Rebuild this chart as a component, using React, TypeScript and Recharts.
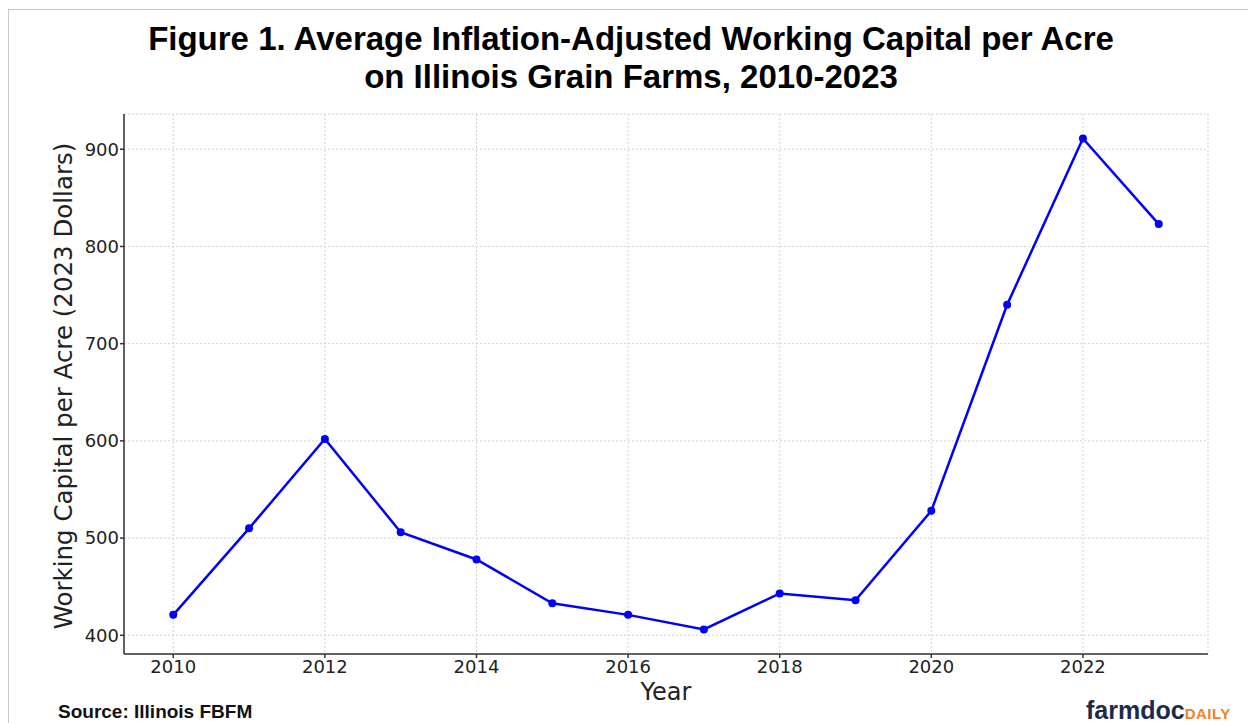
import { CartesianGrid, Line, LineChart, XAxis, YAxis } from "recharts";

const years = [2010, 2011, 2012, 2013, 2014, 2015, 2016, 2017, 2018, 2019, 2020, 2021, 2022, 2023];
const workingCapital = [421, 510, 602, 506, 478, 433, 421, 406, 443, 436, 528, 740, 911, 823];
const xTicks = [2010, 2012, 2014, 2016, 2018, 2020, 2022];
const yTicks = [400, 500, 600, 700, 800, 900];

const data = years.map((year, i) => ({ year, value: workingCapital[i] }));

const tickStyle = { fontFamily: "DejaVu Sans", fontSize: 18, fill: "#222" };
const axisStroke = { stroke: "#333", strokeWidth: 1.5 };

export default function App() {
  return (
    <div style={{ position: "absolute", left: 0, top: 0, width: 1248, height: 723, background: "#fff", overflow: "hidden" }}>
      <div
        style={{
          position: "absolute",
          left: 8,
          top: 9,
          width: 1260,
          height: 730,
          borderLeft: "1px solid #c8c8c8",
          borderTop: "1px solid #c8c8c8"
        }}
      />
      <div
        style={{
          position: "absolute",
          left: 131,
          top: 20,
          width: 1000,
          textAlign: "center",
          fontFamily: "Liberation Sans, Arial, sans-serif",
          fontWeight: "bold",
          fontSize: 33,
          lineHeight: "38px",
          color: "#000"
        }}
      >
        Figure 1. Average Inflation-Adjusted Working Capital per Acre
        <br />
        on Illinois Grain Farms, 2010-2023
      </div>

      <div style={{ position: "absolute", left: 0, top: 0 }}>
        <LineChart width={1248} height={723} data={data} margin={{ top: 114, right: 40, bottom: 0, left: 0 }}>
          <CartesianGrid stroke="#d2d2d2" strokeDasharray="2 2" />
          <XAxis
            dataKey="year"
            type="number"
            domain={[2009.35, 2023.65]}
            ticks={xTicks}
            interval={0}
            allowDataOverflow
            height={69}
            tickSize={4}
            tickMargin={2}
            tick={tickStyle}
            axisLine={axisStroke}
            tickLine={axisStroke}
            label={{
              content: () => (
                <text x={666} y={692} textAnchor="middle" dominantBaseline="central" fontFamily="DejaVu Sans" fontSize={24} fill="#222">
                  Year
                </text>
              )
            }}
          />
          <YAxis
            type="number"
            domain={[380.75, 936.25]}
            ticks={yTicks}
            interval={0}
            allowDataOverflow
            width={124}
            tickSize={4}
            tickMargin={1}
            tick={tickStyle}
            axisLine={axisStroke}
            tickLine={axisStroke}
            label={{
              content: () => (
                <text
                  x={63}
                  y={386}
                  transform="rotate(-90 63 386)"
                  textAnchor="middle"
                  dominantBaseline="central"
                  fontFamily="DejaVu Sans"
                  fontSize={24.5}
                  fill="#222"
                >
                  Working Capital per Acre (2023 Dollars)
                </text>
              )
            }}
          />
          <Line
            type="linear"
            dataKey="value"
            stroke="#0000ff"
            strokeWidth={2.5}
            dot={{ r: 4, fill: "#0000ff", stroke: "#0000ff", strokeWidth: 0 }}
            activeDot={false}
            isAnimationActive={false}
          />
        </LineChart>
      </div>

      <div
        style={{
          position: "absolute",
          left: 58,
          top: 702,
          fontFamily: "Liberation Sans, Arial, sans-serif",
          fontWeight: "bold",
          fontSize: 19,
          lineHeight: "20px",
          color: "#111",
          whiteSpace: "nowrap"
        }}
      >
        Source: Illinois FBFM
      </div>
      <div
        style={{
          position: "absolute",
          left: 1086,
          top: 697,
          fontFamily: "Liberation Sans, Arial, sans-serif",
          fontWeight: "bold",
          whiteSpace: "nowrap",
          lineHeight: "26px"
        }}
      >
        <span style={{ fontSize: 25, color: "#1e2a4a" }}>farmdoc</span>
        <span style={{ fontSize: 15, color: "#f58025", letterSpacing: 0.5 }}>DAILY</span>
      </div>
    </div>
  );
}
